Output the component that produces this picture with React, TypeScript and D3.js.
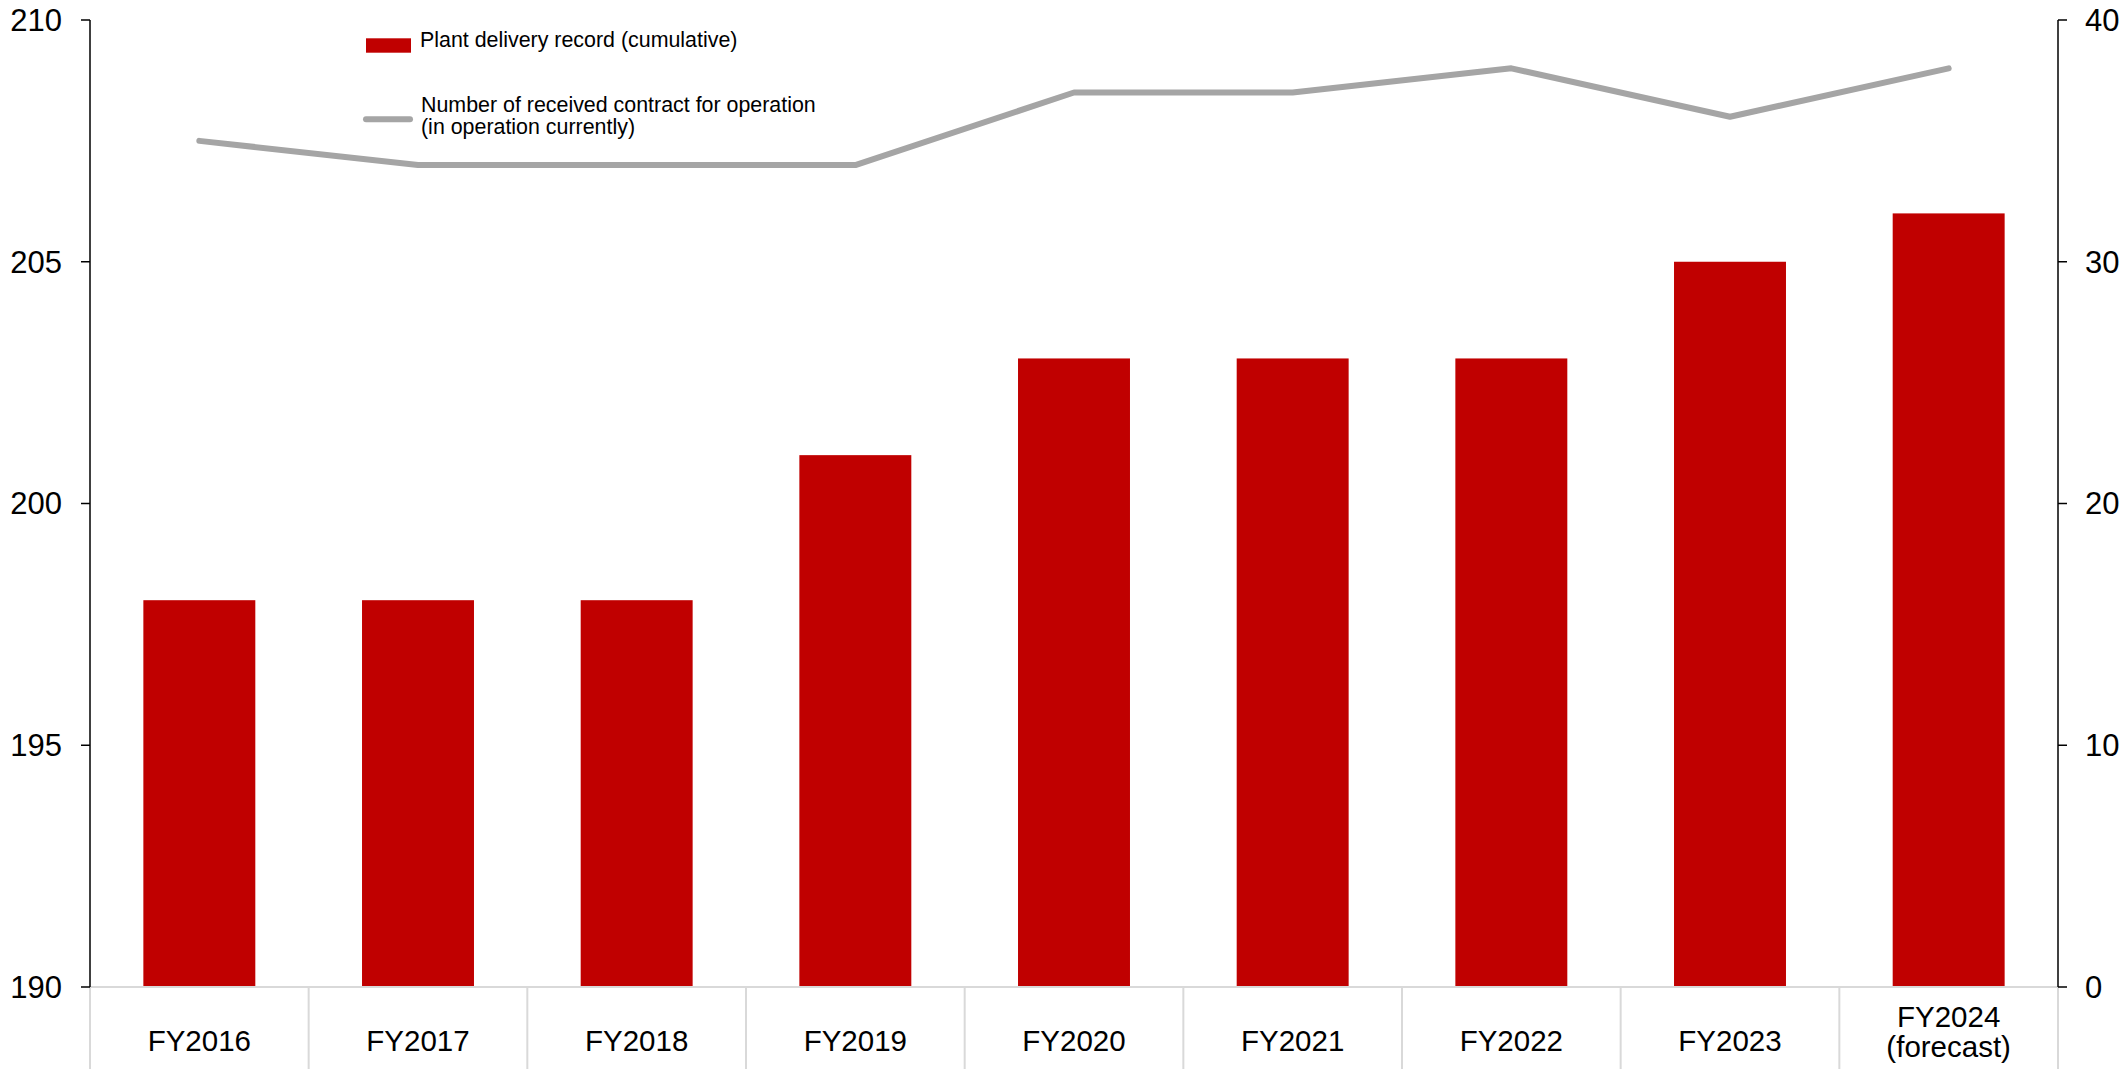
import React from "react";
import * as d3 from "d3";

const categories: string[][] = [
  ["FY2016"],
  ["FY2017"],
  ["FY2018"],
  ["FY2019"],
  ["FY2020"],
  ["FY2021"],
  ["FY2022"],
  ["FY2023"],
  ["FY2024", "(forecast)"],
];
const deliveryCumulative: number[] = [198, 198, 198, 201, 203, 203, 203, 205, 206];
const contractsInOperation: number[] = [35, 34, 34, 34, 37, 37, 38, 36, 38];
const leftTicks: number[] = [190, 195, 200, 205, 210];
const rightTicks: number[] = [0, 10, 20, 30, 40];
const legendLabels = {
  bar: "Plant delivery record (cumulative)",
  line: ["Number of received contract for operation", "(in operation currently)"],
};

const W = 2126;
const H = 1069;
const left = 90;
const right = 2058;
const top = 20;
const bottom = 987;
const FONT = "'Liberation Sans', Arial, sans-serif";
const RED = "#c00000";
const GRAY = "#a5a5a5";
const SEP = "#d9d9d9";

export default function App() {
  const keys = categories.map((c) => c.join(" "));
  const xBand = d3.scaleBand<string>().domain(keys).range([left, right]).padding(0);
  const xBar = d3
    .scaleBand<string>()
    .domain(keys)
    .range([left, right])
    .paddingInner(0.488)
    .paddingOuter(0.244);
  const yL = d3.scaleLinear().domain([190, 210]).range([bottom, top]);
  const yR = d3.scaleLinear().domain([0, 40]).range([bottom, top]);

  const lineGen = d3
    .line<number>()
    .x((_, i) => (xBand(keys[i]) as number) + xBand.bandwidth() / 2)
    .y((d) => yR(d));

  const boundaries = [...keys.map((k) => xBand(k) as number), right];

  return (
    <svg
      width={W}
      height={H}
      style={{ position: "absolute", left: 0, top: 0, background: "#fff" }}
      fontFamily={FONT}
    >
      <rect x={0} y={0} width={W} height={H} fill="#fff" />
      {/* bars */}
      {deliveryCumulative.map((v, i) => (
        <rect
          key={keys[i]}
          x={xBar(keys[i])}
          y={yL(v)}
          width={xBar.bandwidth()}
          height={bottom - yL(v)}
          fill={RED}
        />
      ))}
      {/* category separators */}
      <line x1={left} x2={right} y1={bottom} y2={bottom} stroke={SEP} strokeWidth={2} />
      {boundaries.map((bx, i) => (
        <line key={i} x1={bx} x2={bx} y1={bottom} y2={H} stroke={SEP} strokeWidth={2} />
      ))}
      {/* line */}
      <path
        d={lineGen(contractsInOperation) || ""}
        fill="none"
        stroke={GRAY}
        strokeWidth={6}
        strokeLinecap="round"
        strokeLinejoin="round"
      />
      {/* left axis */}
      <line x1={left} x2={left} y1={top} y2={bottom} stroke="#000" strokeWidth={1.5} />
      {leftTicks.map((t) => (
        <g key={t}>
          <line x1={left - 9} x2={left} y1={yL(t)} y2={yL(t)} stroke="#000" strokeWidth={1.5} />
          <text x={62} y={yL(t)} dy="0.35em" textAnchor="end" fontSize={31} fill="#000">
            {t}
          </text>
        </g>
      ))}
      {/* right axis */}
      <line x1={right} x2={right} y1={top} y2={bottom} stroke="#000" strokeWidth={1.5} />
      {rightTicks.map((t) => (
        <g key={t}>
          <line x1={right} x2={right + 9} y1={yR(t)} y2={yR(t)} stroke="#000" strokeWidth={1.5} />
          <text x={2085} y={yR(t)} dy="0.35em" textAnchor="start" fontSize={31} fill="#000">
            {t}
          </text>
        </g>
      ))}
      {/* category labels */}
      {categories.map((c, i) => {
        const cx = (xBand(keys[i]) as number) + xBand.bandwidth() / 2;
        if (c.length === 1) {
          return (
            <text key={keys[i]} x={cx} y={1051} textAnchor="middle" fontSize={29.5} fill="#000">
              {c[0]}
            </text>
          );
        }
        return (
          <text key={keys[i]} x={cx} textAnchor="middle" fontSize={29.5} fill="#000">
            {c.map((s, j) => (
              <tspan key={j} x={cx} y={1027 + j * 30}>
                {s}
              </tspan>
            ))}
          </text>
        );
      })}
      {/* legend */}
      <rect x={366} y={38.3} width={45} height={14.4} fill={RED} />
      <text x={420} y={46.7} fontSize={21.4} fill="#000">
        {legendLabels.bar}
      </text>
      <line x1={366} x2={410} y1={119.3} y2={119.3} stroke={GRAY} strokeWidth={6} strokeLinecap="round" />
      <text x={421} fontSize={21.4} fill="#000">
        {legendLabels.line.map((s, j) => (
          <tspan key={j} x={421} y={111.7 + j * 22.5}>
            {s}
          </tspan>
        ))}
      </text>
    </svg>
  );
}
